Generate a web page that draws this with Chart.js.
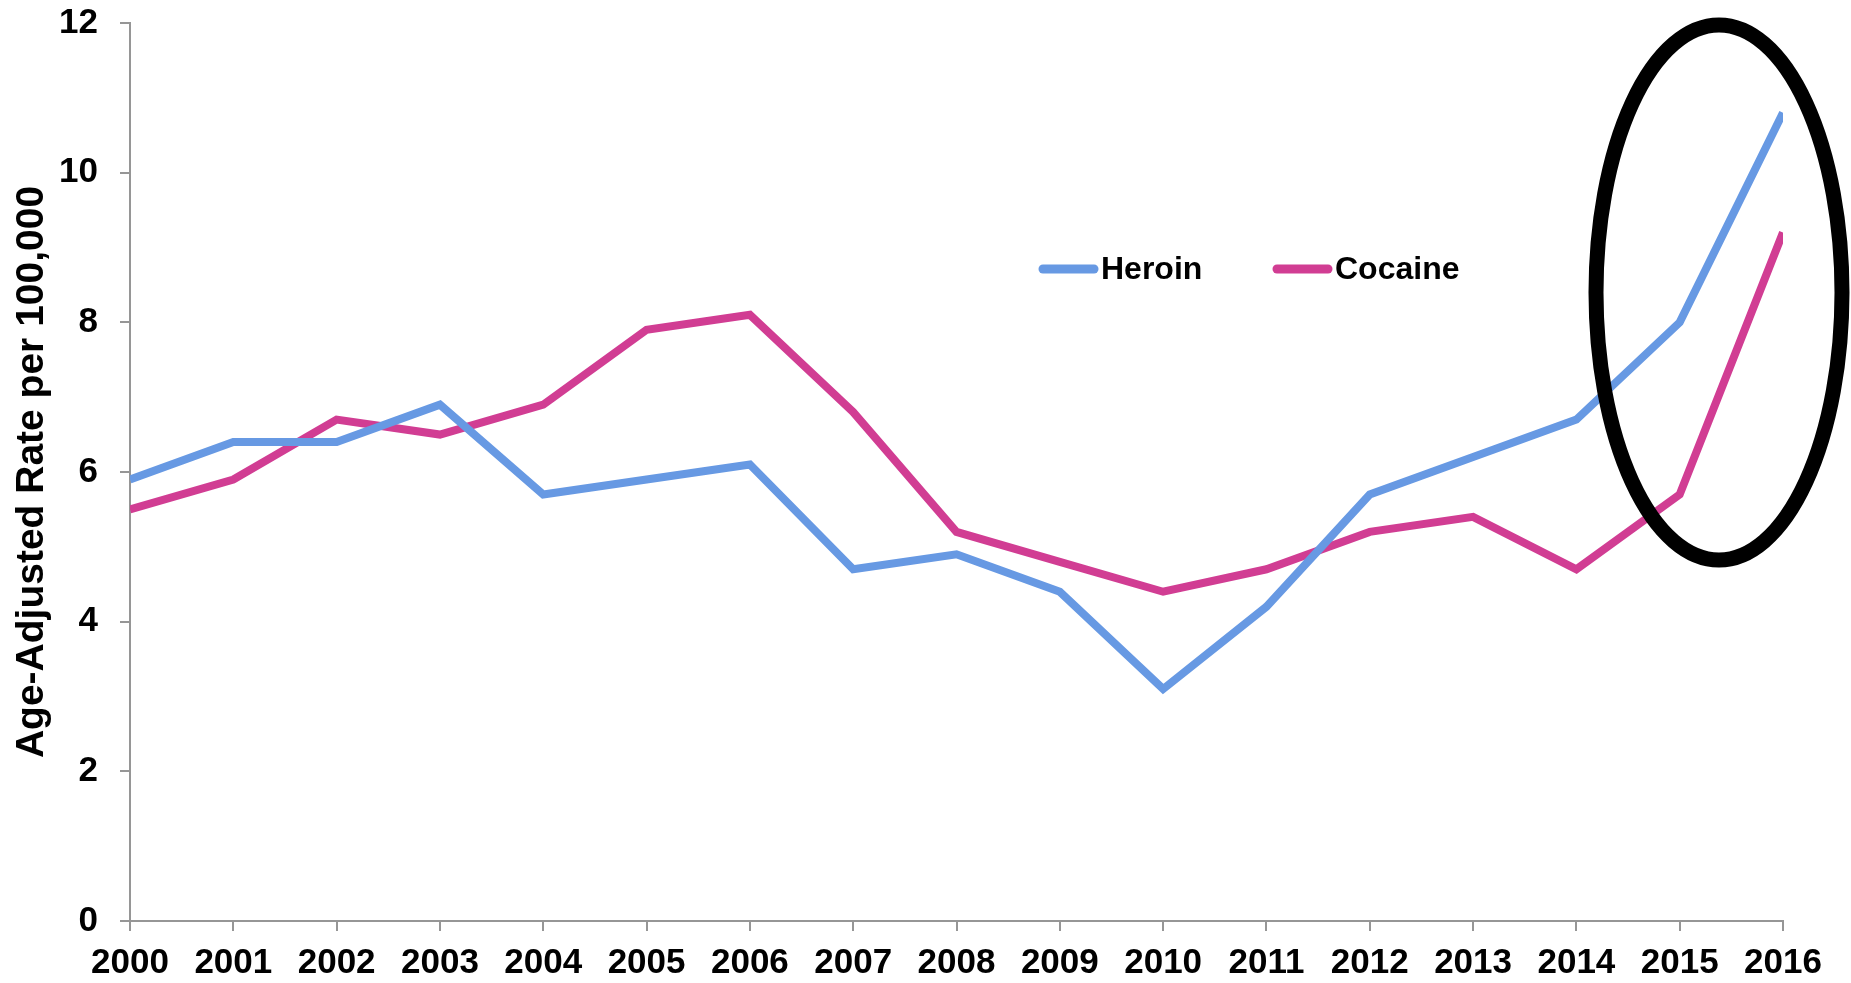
<!DOCTYPE html>
<html>
<head>
<meta charset="utf-8">
<title>Heroin and Cocaine death rates, 2000–2016</title>
<script src="https://cdn.jsdelivr.net/npm/chart.js@4/dist/chart.umd.min.js"></script>
<style>
  html, body { margin: 0; padding: 0; background: #ffffff; }
  #wrap { width: 1851px; height: 983px; }
</style>
</head>
<body>
<div id="wrap"><canvas id="chart" width="1851" height="983"></canvas></div>
<script>
// Years on the horizontal axis
const years = ['2000','2001','2002','2003','2004','2005','2006','2007','2008',
               '2009','2010','2011','2012','2013','2014','2015','2016'];

// Age-adjusted death rate per 100,000
const heroin  = [5.9, 6.4, 6.4, 6.9, 5.7, 5.9, 6.1, 4.7, 4.9, 4.4, 3.1, 4.2, 5.7, 6.2, 6.7, 8.0, 10.8];
const cocaine = [5.5, 5.9, 6.7, 6.5, 6.9, 7.9, 8.1, 6.8, 5.2, 4.8, 4.4, 4.7, 5.2, 5.4, 4.7, 5.7, 9.2];

// Value-axis ticks
const yTicks = [0, 2, 4, 6, 8, 10, 12];

const seriesNames  = ['Heroin', 'Cocaine'];
const seriesColors = ['#6799E3', '#D13D93'];

const FONT = "Arial, 'Liberation Sans', Helvetica, sans-serif";
const AXIS_GREY = '#969696';

// Legend drawn inside the plot area, as a line sample followed by the label
const inlineLegend = {
  id: 'inlineLegend',
  afterDatasetsDraw(chart) {
    const ctx = chart.ctx;
    const items = [
      { x: 1039, name: seriesNames[0], color: seriesColors[0] },
      { x: 1273, name: seriesNames[1], color: seriesColors[1] }
    ];
    const y = 269;
    ctx.save();
    ctx.lineCap = 'round';
    ctx.lineWidth = 9;
    ctx.font = 'bold 32px ' + FONT;
    ctx.textBaseline = 'middle';
    ctx.textAlign = 'left';
    items.forEach(it => {
      ctx.strokeStyle = it.color;
      ctx.beginPath();
      ctx.moveTo(it.x + 4, y);
      ctx.lineTo(it.x + 55, y);
      ctx.stroke();
      ctx.fillStyle = '#000';
      ctx.fillText(it.name, it.x + 62, y + 1);
    });
    ctx.restore();
  }
};

// Highlight ring around the last two years
const highlightRing = {
  id: 'highlightRing',
  afterDraw(chart) {
    const ctx = chart.ctx;
    ctx.save();
    ctx.strokeStyle = '#000';
    ctx.lineWidth = 15;
    ctx.beginPath();
    ctx.ellipse(1719, 292.5, 123, 267.5, 0, 0, Math.PI * 2);
    ctx.stroke();
    ctx.restore();
  }
};

new Chart(document.getElementById('chart'), {
  type: 'line',
  data: {
    labels: years,
    datasets: [
      {
        label: seriesNames[0],
        data: heroin,
        borderColor: seriesColors[0],
        backgroundColor: seriesColors[0],
        borderWidth: 8,
        pointRadius: 0,
        tension: 0,
        borderJoinStyle: 'miter',
        clip: 0
      },
      {
        label: seriesNames[1],
        data: cocaine,
        borderColor: seriesColors[1],
        backgroundColor: seriesColors[1],
        borderWidth: 8,
        pointRadius: 0,
        tension: 0,
        borderJoinStyle: 'miter',
        clip: 0
      }
    ]
  },
  options: {
    responsive: false,
    animation: false,
    devicePixelRatio: 1,
    layout: { padding: { left: 0, top: 23, right: 68, bottom: 0 } },
    plugins: {
      legend: { display: false },
      tooltip: { enabled: false }
    },
    scales: {
      x: {
        type: 'category',
        offset: false,
        grid: {
          drawOnChartArea: false,
          drawTicks: true,
          tickLength: 10,
          color: AXIS_GREY,
          lineWidth: 2
        },
        border: { color: AXIS_GREY, width: 2 },
        ticks: {
          color: '#000',
          font: { family: FONT, size: 35, weight: 'bold' },
          padding: 11,
          maxRotation: 0,
          autoSkip: false
        },
        afterFit(scale) { scale.height = 62; }
      },
      y: {
        min: 0,
        max: 12,
        afterBuildTicks(scale) { scale.ticks = yTicks.map(v => ({ value: v })); },
        grid: {
          drawOnChartArea: false,
          drawTicks: true,
          tickLength: 10,
          color: AXIS_GREY,
          lineWidth: 2
        },
        border: { color: AXIS_GREY, width: 2 },
        ticks: {
          color: '#000',
          font: { family: FONT, size: 35, weight: 'bold' },
          padding: 22
        },
        title: {
          display: true,
          text: 'Age-Adjusted Rate per 100,000',
          color: '#000',
          font: { family: FONT, size: 39, weight: 'bold' },
          padding: { top: 9, bottom: 0 }
        },
        afterFit(scale) {
          scale.width = 130;
          // the outer layout padding already leaves room for the top label
          scale.paddingTop = 0;
          scale.paddingBottom = 0;
        }
      }
    }
  },
  plugins: [inlineLegend, highlightRing]
});
</script>
</body>
</html>
